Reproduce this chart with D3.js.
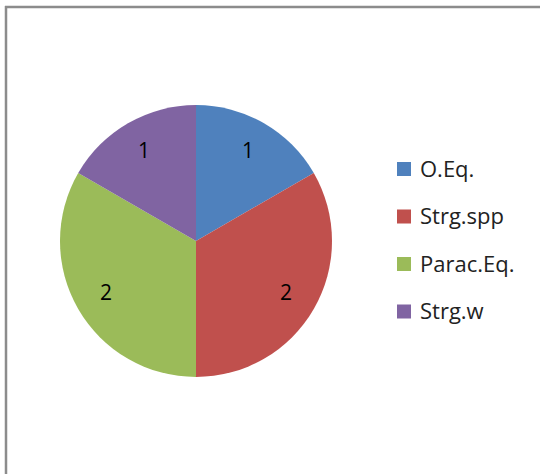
<!DOCTYPE html>
<html>
<head>
<meta charset="utf-8">
<script src="https://cdn.jsdelivr.net/npm/d3@7"></script>
<style>
  body { margin: 0; background: #fff; }
  svg { display: block; font-family: "Open Sans", sans-serif; }
</style>
</head>
<body>
<script>
var categories = ['O.Eq.', 'Strg.spp', 'Parac.Eq.', 'Strg.w']
var values = [1, 2, 2, 1]
var colors = ['#4f81bd', '#c0504d', '#9bbb59', '#8064a2']

var width = 540, height = 474
var cx = 196, cy = 241, radius = 136

var svg = d3.select('body')
  .append('svg')
  .attr('width', width)
  .attr('height', height)

// chart frame (only left and top edges are visible in the crop)
svg.append('line')
  .attr('x1', 6).attr('y1', 6).attr('x2', 6).attr('y2', height)
  .attr('stroke', '#8c8c8c').attr('stroke-width', 2.5)
svg.append('line')
  .attr('x1', 5).attr('y1', 7).attr('x2', width).attr('y2', 7)
  .attr('stroke', '#8c8c8c').attr('stroke-width', 2.5)

var data = categories.map(function(c, i) {
  return { name: c, value: values[i], color: colors[i] }
})

var pie = d3.pie().sort(null).value(d => d.value)
var arc = d3.arc().innerRadius(0).outerRadius(radius)
var labelArc = d3.arc().innerRadius(104).outerRadius(104)

var g = svg.append('g')
  .attr('transform', 'translate(' + cx + ',' + cy + ')')

g.selectAll('path')
  .data(pie(data))
  .enter()
  .append('path')
  .attr('d', arc)
  .attr('fill', d => d.data.color)

g.selectAll('text')
  .data(pie(data))
  .enter()
  .append('text')
  .attr('transform', d => 'translate(' + labelArc.centroid(d) + ')')
  .attr('text-anchor', 'middle')
  .attr('dy', '0.35em')
  .attr('font-size', 21)
  .attr('fill', '#000')
  .text(d => d.data.value)

// legend
var legend = svg.append('g')
  .attr('transform', 'translate(397,169)')

var rows = legend.selectAll('g')
  .data(data)
  .enter()
  .append('g')
  .attr('transform', (d, i) => 'translate(0,' + i * 47.5 + ')')

rows.append('rect')
  .attr('x', 0).attr('y', -7)
  .attr('width', 14).attr('height', 14)
  .attr('fill', d => d.color)

rows.append('text')
  .attr('x', 23)
  .attr('dy', '0.36em')
  .attr('font-size', 22)
  .attr('fill', '#222')
  .text(d => d.name)
</script>
</body>
</html>
